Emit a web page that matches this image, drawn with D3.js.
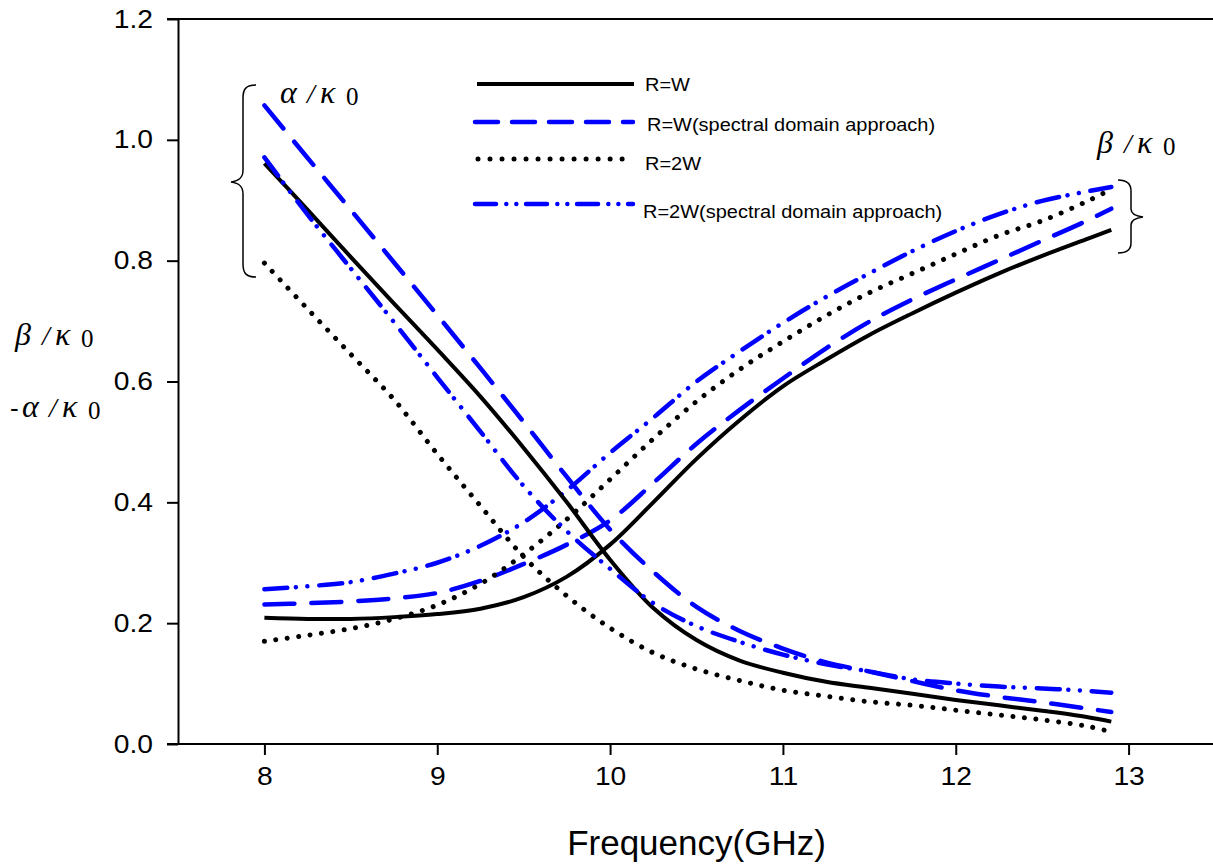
<!DOCTYPE html>
<html>
<head>
<meta charset="utf-8">
<script src="https://cdn.jsdelivr.net/npm/d3@7"></script>
<style>
  html, body { margin: 0; padding: 0; background: #fff; }
  svg { display: block; }
  text { fill: #000; }
</style>
</head>
<body>
<svg id="chart" width="1213" height="865"></svg>
<script>
// ---------------- data ----------------
const freq = [8, 8.25, 8.5, 8.75, 9, 9.25, 9.5, 9.75, 10, 10.25, 10.5, 10.75, 11, 11.25, 11.5, 11.75, 12, 12.25, 12.5, 12.75, 12.9];

// beta / k0 (rising curves)
const betaRW      = [0.209, 0.207, 0.207, 0.210, 0.215, 0.224, 0.243, 0.277, 0.330, 0.400, 0.472, 0.536, 0.592, 0.636, 0.677, 0.713, 0.747, 0.779, 0.808, 0.835, 0.851];
const betaRWsda   = [0.231, 0.233, 0.236, 0.241, 0.250, 0.270, 0.298, 0.330, 0.370, 0.432, 0.497, 0.553, 0.605, 0.655, 0.699, 0.736, 0.769, 0.801, 0.833, 0.865, 0.886];
const beta2W      = [0.170, 0.180, 0.191, 0.207, 0.230, 0.265, 0.314, 0.372, 0.438, 0.505, 0.567, 0.620, 0.666, 0.709, 0.747, 0.779, 0.811, 0.842, 0.866, 0.897, 0.918];
const beta2Wsda   = [0.256, 0.261, 0.268, 0.282, 0.300, 0.328, 0.367, 0.420, 0.482, 0.540, 0.600, 0.650, 0.697, 0.740, 0.779, 0.816, 0.849, 0.877, 0.899, 0.914, 0.922];

// alpha / k0 (falling curves)
const alphaRW     = [0.961, 0.884, 0.806, 0.729, 0.653, 0.575, 0.490, 0.400, 0.305, 0.225, 0.172, 0.138, 0.118, 0.103, 0.093, 0.083, 0.073, 0.064, 0.055, 0.045, 0.037];
const alphaRWsda  = [1.057, 0.970, 0.884, 0.797, 0.710, 0.622, 0.533, 0.442, 0.355, 0.285, 0.227, 0.187, 0.158, 0.135, 0.120, 0.104, 0.089, 0.078, 0.069, 0.059, 0.053];
const alpha2W     = [0.796, 0.720, 0.645, 0.570, 0.480, 0.394, 0.310, 0.245, 0.192, 0.151, 0.124, 0.105, 0.089, 0.079, 0.070, 0.064, 0.056, 0.048, 0.040, 0.030, 0.020];
const alpha2Wsda  = [0.971, 0.876, 0.787, 0.698, 0.607, 0.517, 0.427, 0.352, 0.290, 0.233, 0.195, 0.169, 0.148, 0.132, 0.120, 0.107, 0.100, 0.095, 0.092, 0.088, 0.085];

const xTicks = [8, 9, 10, 11, 12, 13];
const yTicks = [0, 0.2, 0.4, 0.6, 0.8, 1.0, 1.2];
const legendLabels = ["R=W", "R=W(spectral domain approach)", "R=2W", "R=2W(spectral domain approach)"];

// ---------------- styles ----------------
const SANS = "'Liberation Sans', Arial, sans-serif";
const SERIF = "'Liberation Serif', 'DejaVu Serif', serif";
const styles = [
  { color: "#000000", width: 4,   dash: null,                          legendDash: null,                          cap: "butt" },
  { color: "#0000ff", width: 4.5, dash: "30 17",                       legendDash: "23 14",                       cap: "round" },
  { color: "#000000", width: 5,   dash: "0.01 11.5",                   legendDash: "0.01 12",                     cap: "round" },
  { color: "#0000ff", width: 4.5, dash: "23 8.5 0.01 11.5 0.01 12",    legendDash: "21 10.3 0.01 10 0.01 9.7",    cap: "round" }
];

const svg = d3.select("#chart");

const x = d3.scaleLinear().domain([7.5, 13.5]).range([178, 1215]);
const y = d3.scaleLinear().domain([0, 1.2]).range([744, 19]);

const SX = 1.13; // horizontal stretch of tick labels

// ---------------- axes ----------------
const xAxis = d3.axisBottom(x).tickValues(xTicks).tickFormat(d3.format("d")).tickSize(11).tickPadding(12).tickSizeOuter(0);
const yAxis = d3.axisLeft(y).tickValues(yTicks).tickFormat(d3.format(".1f")).tickSize(11).tickPadding(14).tickSizeOuter(0);

const gx = svg.append("g").attr("transform", `translate(0,${y(0)})`).call(xAxis);
gx.select(".domain").attr("stroke-width", 2).attr("d", `M${x(7.5)-11},0H${x(13.5)}`);
gx.selectAll(".tick line").attr("stroke-width", 2);
gx.selectAll(".tick text").style("font-size", "25px").style("font-family", SANS).attr("fill", "#000")
  .attr("transform", `scale(${SX},1)`);

const gy = svg.append("g").attr("transform", `translate(${x(7.5)},0)`).call(yAxis);
gy.select(".domain").attr("stroke-width", 2);
gy.selectAll(".tick line").attr("stroke-width", 2);
gy.selectAll(".tick text").style("font-size", "25px").style("font-family", SANS).attr("fill", "#000")
  .attr("x", -25 / SX).attr("transform", `scale(${SX},1)`);

// top frame line
svg.append("line")
  .attr("x1", x(7.5) - 11).attr("x2", x(13.5))
  .attr("y1", y(1.2)).attr("y2", y(1.2))
  .attr("stroke", "#000").attr("stroke-width", 2);

// ---------------- curves ----------------
const seriesList = [
  { vals: betaRW, s: 0 }, { vals: betaRWsda, s: 1 }, { vals: beta2W, s: 2 }, { vals: beta2Wsda, s: 3 },
  { vals: alphaRW, s: 0 }, { vals: alphaRWsda, s: 1 }, { vals: alpha2W, s: 2 }, { vals: alpha2Wsda, s: 3 }
];

const line = d3.line().x((d, i) => x(freq[i])).y(d => y(d)).curve(d3.curveCatmullRom.alpha(0.5));

seriesList.forEach(ser => {
  const st = styles[ser.s];
  svg.append("path")
    .datum(ser.vals)
    .attr("d", line)
    .attr("fill", "none")
    .attr("stroke", st.color)
    .attr("stroke-width", st.width)
    .attr("stroke-linecap", st.cap)
    .attr("stroke-linejoin", "round")
    .attr("stroke-dasharray", st.dash);
});

// ---------------- legend ----------------
const LX = 1.08;
const legendRows = [
  { y: 84,  x1: 477, x2: 634, tx: 645, ty: 91 },
  { y: 122, x1: 475, x2: 633, tx: 647, ty: 131 },
  { y: 159, x1: 478, x2: 623, tx: 645, ty: 170 },
  { y: 204, x1: 475, x2: 633, tx: 643, ty: 218 }
];
legendRows.forEach((r, i) => {
  const st = styles[i];
  svg.append("line")
    .attr("x1", r.x1).attr("x2", r.x2).attr("y1", r.y).attr("y2", r.y)
    .attr("stroke", st.color).attr("stroke-width", st.width)
    .attr("stroke-linecap", st.cap)
    .attr("stroke-dasharray", st.legendDash);
  svg.append("text")
    .attr("transform", `translate(${r.tx},${r.ty}) scale(${LX},1)`)
    .style("font-size", "18.5px").style("font-family", SANS)
    .text(legendLabels[i]);
});

// ---------------- axis title ----------------
svg.append("text")
  .attr("x", (x(7.5) + x(13.5)) / 2).attr("y", 855)
  .attr("text-anchor", "middle")
  .style("font-size", "35px").style("font-family", SANS)
  .text("Frequency(GHz)");

// ---------------- math labels ----------------
function mathLabel(px, py, prefix, sym) {
  const g = svg.append("g").attr("transform", `translate(${px},${py})`);
  let off = 0;
  if (prefix) {
    g.append("text").attr("x", 0).attr("y", 0)
      .style("font-size", "26px").style("font-family", SANS).text("-");
    off = 12;
  }
  g.append("text").attr("x", off).attr("y", 0)
    .style("font-size", "32px").style("font-style", "italic").style("font-family", SERIF).text(sym);
  g.append("text").attr("x", off + 27).attr("y", 0)
    .style("font-size", "28px").style("font-style", "italic").style("font-family", SERIF).text("/");
  g.append("text").attr("x", off + 40).attr("y", 0)
    .style("font-size", "32px").style("font-style", "italic").style("font-family", SERIF).text("κ");
  g.append("text").attr("x", off + 66).attr("y", 2)
    .style("font-size", "25px").style("font-family", SERIF).text("0");
}
mathLabel(15, 345, false, "β");
mathLabel(10, 417, true, "α");
mathLabel(280, 103, false, "α");
mathLabel(1097, 153, false, "β");

// ---------------- braces ----------------
svg.append("path")
  .attr("d", "M256,85 C246,85 243,89 243,98 L243,170 C243,178 239,181 231,182 C239,183 243,186 243,194 L243,264 C243,273 246,277 256,277")
  .attr("fill", "none").attr("stroke", "#000").attr("stroke-width", 1.5);
svg.append("path")
  .attr("d", "M1118,180 C1127,180 1131,184 1131,191 L1131,209 C1131,214 1135,216 1143,217 C1135,218 1131,220 1131,225 L1131,243 C1131,250 1127,253 1118,253")
  .attr("fill", "none").attr("stroke", "#000").attr("stroke-width", 1.5);
</script>
</body>
</html>
